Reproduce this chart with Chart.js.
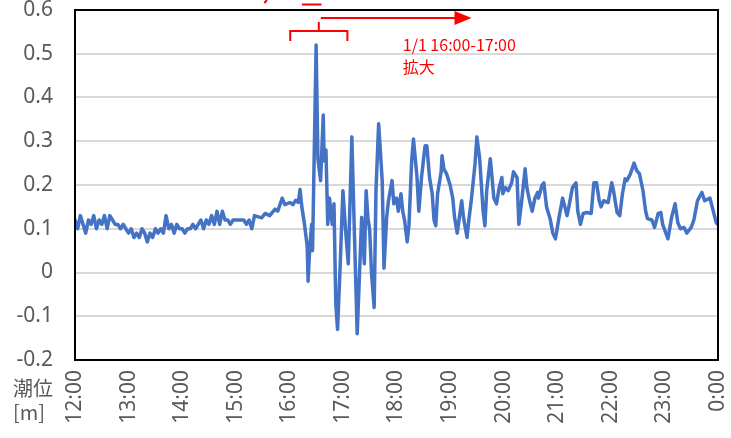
<!DOCTYPE html>
<html><head><meta charset="utf-8">
<script src="https://cdn.jsdelivr.net/npm/chart.js@4/dist/chart.umd.min.js"></script>
<style>html,body{margin:0;padding:0;background:#fff}#wrap{width:731px;height:438px}</style>
</head><body><div id="wrap"><canvas id="c" width="731" height="438"></canvas></div>
<script>
// minutes after 12:00
const minutes = [
 0,3,6,9,12,15,18,21,24,27,
 30,33,36,39,42,45,48,51,54,57,
 60,63,66,69,72,75,78,81,84,87,
 90,93,96,99,102,105,108,111,114,117,
 120,123,126,129,132,135,138,141,144,147,
 150,153,156,159,162,165,168,171,174,177,
 180,183,186,189,192,195,
 198,201,209,213,218,224,227,232,235,241,
 244,247,250,252,
 254,257,260,261,263,265,266,270,272,275,
 278,279,281,283,285,288,290,292,294,297,
 300,303,306,310,313,316,319,321,324,326,
 328,330,332,335,337,340,344,346,349,351,
 355,357,
 360,362,365,367,369,372,374,377,379,383,
 385,388,392,394,397,400,402,404,406,410,
 411,413,416,420,423,425,428,430,433,435,
 439,441,444,448,450,453,457,459,461,465,
 467,469,472,475,478,479,482,485,489,491,
 495,497,500,504,506,509,512,515,518,519,
 523,525,528,532,535,538,542,546,551,553,
 557,561,563,566,569,573,578,581,584,587,
 589,592,597,601,603,607,610,613,616,618,
 622,626,629,632,636,639,641,646,649,653,
 656,658,664,668,672,675,678,682,685,690,
 693,697,702,705,711,714,718,720
];
const tideLevel = [
 0.12,0.10,0.13,0.11,0.09,0.12,0.11,0.13,0.10,0.12,
 0.11,0.13,0.10,0.13,0.12,0.11,0.11,0.10,0.11,0.10,
 0.09,0.10,0.08,0.09,0.08,0.10,0.09,0.07,0.09,0.08,
 0.10,0.09,0.10,0.09,0.13,0.10,0.11,0.09,0.11,0.10,
 0.10,0.09,0.10,0.10,0.11,0.10,0.11,0.12,0.10,0.12,
 0.11,0.13,0.11,0.14,0.11,0.14,0.12,0.12,0.11,0.12,
 0.12,0.12,0.12,0.12,0.11,0.12,
 0.10,0.13,0.125,0.135,0.13,0.145,0.14,0.17,0.155,0.16,
 0.155,0.165,0.16,0.19,
 0.15,0.11,0.06,-0.02,0.06,0.11,0.05,0.52,0.26,0.21,
 0.36,0.255,0.28,0.11,0.17,0.11,0.157,-0.07,-0.13,0.02,
 0.187,0.096,0.02,0.31,0.08,-0.14,0.02,0.126,0.02,0.187,
 0.126,0.096,0.0,-0.08,0.187,0.34,0.21,0.01,0.126,0.164,
 0.21,0.157,
 0.17,0.14,0.18,0.14,0.12,0.07,0.11,0.256,0.305,0.217,
 0.14,0.217,0.29,0.29,0.217,0.18,0.12,0.107,0.18,0.23,
 0.267,0.237,0.226,0.2,0.17,0.126,0.09,0.12,0.164,0.126,
 0.08,0.12,0.17,0.25,0.31,0.263,0.14,0.107,0.187,0.26,
 0.217,0.17,0.157,0.194,0.217,0.18,0.194,0.187,0.205,0.23,
 0.217,0.11,0.16,0.237,0.194,0.164,0.14,0.17,0.183,0.17,
 0.2,0.205,0.15,0.123,0.09,0.077,0.126,0.17,0.13,0.15,
 0.194,0.205,0.14,0.11,0.135,0.137,0.135,0.205,0.205,0.164,
 0.15,0.164,0.16,0.205,0.187,0.137,0.13,0.18,0.214,0.21,
 0.226,0.25,0.233,0.226,0.187,0.14,0.123,0.12,0.103,0.135,
 0.137,0.11,0.077,0.126,0.157,0.114,0.1,0.103,0.09,0.103,
 0.12,0.164,0.183,0.164,0.17,0.146,0.114,0.11
];
const timeLabels = ["12:00","13:00","14:00","15:00","16:00","17:00","18:00","19:00","20:00","21:00","22:00","23:00","0:00"];
const axisTitle = ["潮位","[m]"];
const noteLines = ["1/1 16:00-17:00","拡大"];
// bracket covers these minutes (16:00 - 17:05), arrow ends at this minute
const bracketRange = [241, 305];
const arrowEnd = 444;

const points = minutes.map((m,i)=>({x:m,y:tideLevel[i]}));
const gray = '#595959';
const red = '#ff0000';
const font = "'Noto Sans','Noto Sans CJK JP',sans-serif";

const overlay = {
  id:'overlay',
  afterDraw(chart){
    const ctx = chart.ctx, a = chart.chartArea, xs = chart.scales.x;
    ctx.save();
    // frame
    ctx.strokeStyle = '#000'; ctx.lineWidth = 2;
    ctx.strokeRect(a.left, a.top, a.right-a.left, a.bottom-a.top);
    // axis title
    ctx.fillStyle = gray; ctx.font = "20px 'Noto Sans CJK JP'";
    ctx.textAlign='left'; ctx.textBaseline='middle';
    ctx.fillText(axisTitle[0], 13, 388);
    ctx.fillText(axisTitle[1], 13, 412);
    // red annotation
    const x0 = xs.getPixelForValue(bracketRange[0]);
    const x1 = xs.getPixelForValue(bracketRange[1]);
    const xc = (x0+x1)/2;
    const xe = xs.getPixelForValue(arrowEnd);
    ctx.strokeStyle = red; ctx.fillStyle = red; ctx.lineWidth = 2;
    ctx.beginPath();
    ctx.moveTo(x0, a.top+31); ctx.lineTo(x0, a.top+21); ctx.lineTo(x1, a.top+21); ctx.lineTo(x1, a.top+31);
    ctx.moveTo(xc, a.top+21); ctx.lineTo(xc, a.top+12);
    ctx.moveTo(xc+2, a.top+8); ctx.lineTo(xe-16, a.top+8);
    ctx.stroke();
    ctx.beginPath();
    ctx.moveTo(xe-17, a.top+1); ctx.lineTo(xe, a.top+8); ctx.lineTo(xe-17, a.top+15); ctx.closePath(); ctx.fill();
    ctx.font = "16px 'Noto Sans CJK JP'";
    ctx.textAlign='left'; ctx.textBaseline='middle';
    const tx = xs.getPixelForValue(367);
    ctx.fillText(noteLines[0], tx, a.top+35);
    ctx.fillText(noteLines[1], tx, a.top+57);
    // cut-off red text fragments at very top
    ctx.lineWidth = 2;
    ctx.beginPath();
    ctx.moveTo(xs.getPixelForValue(215), 0); ctx.lineTo(xs.getPixelForValue(212), 3);
    ctx.moveTo(xs.getPixelForValue(254), 4.5); ctx.lineTo(xs.getPixelForValue(276), 4.5);
    ctx.stroke();
    ctx.restore();
  }
};

new Chart(document.getElementById('c'), {
  type:'line',
  data:{datasets:[{data:points, borderColor:'#4472C4', borderWidth:3.5, borderJoinStyle:'round', borderCapStyle:'round', pointRadius:0, tension:0, fill:false}]},
  options:{
    responsive:false, animation:false,
    layout:{padding:{top:10,right:13,left:0,bottom:0}},
    plugins:{legend:{display:false},tooltip:{enabled:false}},
    scales:{
      x:{type:'linear', min:0, max:720,
        grid:{display:false, drawTicks:false},
        border:{display:false},
        afterBuildTicks(s){ s.ticks = timeLabels.map((l,i)=>({value:i*60})); },
        ticks:{stepSize:60, autoSkip:false, minRotation:90, maxRotation:90, padding:10,
          color:gray, font:{family:font, size:21},
          callback:(v,i)=>timeLabels[i]},
        afterFit(s){ s.height = 78; s.paddingLeft=0; s.paddingRight=0; }
      },
      y:{min:-0.2, max:0.6,
        grid:{color:'#d9d9d9', lineWidth:2, drawTicks:false},
        border:{display:false},
        ticks:{stepSize:0.1, padding:22, color:gray, font:{family:font, size:21},
          callback:v=>String(Math.round(v*10)/10)},
        afterFit(s){ s.width = 75; s.paddingTop=0; s.paddingBottom=0; }
      }
    }
  },
  plugins:[overlay]
});
</script></body></html>
